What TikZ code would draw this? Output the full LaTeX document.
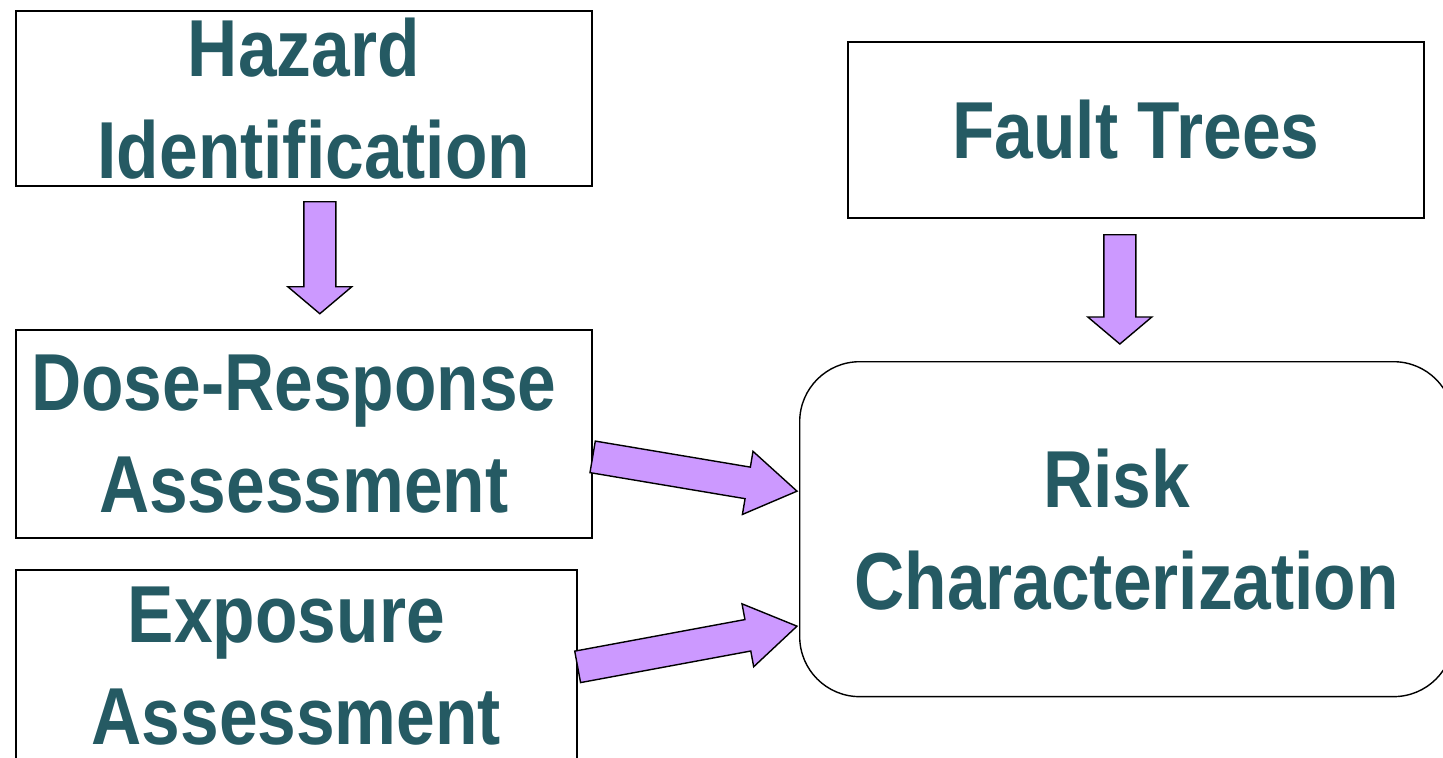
\documentclass[tikz,border=0pt]{standalone}
\usepackage{fontspec}
\newfontfamily\stagefont{Liberation Sans}[FakeStretch=0.86]
\usetikzlibrary{calc,positioning}
\definecolor{stagetext}{HTML}{255A63}
\definecolor{lavender}{HTML}{CC99FF}

% block arrow from coordinate #2 to coordinate #3, #1 = head length
\newcommand{\fatarrow}[3][0.54cm]{%
  \coordinate (fa-n) at ($(#3)!#1!(#2)$);
  \draw[fatarrow] ($(#2)!0.32cm!90:(#3)$) -- ($(fa-n)!0.32cm!-90:(#2)$)
    -- ($(fa-n)!0.64cm!-90:(#2)$) -- (#3) -- ($(fa-n)!0.64cm!90:(#2)$)
    -- ($(fa-n)!0.32cm!90:(#2)$) -- ($(#2)!0.32cm!-90:(#3)$) -- cycle;}
\newcommand{\trail}{\hspace*{0.4cm}}

\begin{document}
\begin{tikzpicture}[x=0.02cm, y=-0.02cm,
    stage/.style={draw=black, line width=1pt, inner sep=0pt, anchor=north west, align=center,
      text=stagetext, font=\stagefont\bfseries\fontsize{46}{58}\selectfont},
    fatarrow/.style={draw=black, line width=0.8pt, fill=lavender, line join=miter},
]
\useasboundingbox (0,0) rectangle (1443,757);

\node[stage, minimum width=11.52cm, minimum height=3.5cm] (haz) at (15,10) {Hazard\\\trail Identification};
\node[stage, minimum width=11.52cm, minimum height=4.16cm] (dose) at (15,329) {Dose-Response\trail\\Assessment};
\node[stage, minimum width=11.22cm, minimum height=3.84cm] (expo) at (15,569) {Exposure\trail\\Assessment};
\node[stage, minimum width=11.52cm, minimum height=3.52cm] (fault) at (847,41) {Fault Trees};
\node[stage, line width=0.8pt, rounded corners=1.2cm, minimum width=13.08cm, minimum height=6.7cm] (risk) at (799,361) {Risk\trail\\Characterization};

% arrow ends
\coordinate (h-s) at ($(haz.south)+(16,15)$);
\coordinate (h-e) at ($(haz.south)+(16,127)$);
\coordinate (f-s) at ($(fault.south)+(-16,16)$);
\coordinate (f-e) at ($(risk.north -| f-s)+(0,-17)$);
\coordinate (d-s) at ($(dose.east)+(0,23)$);
\coordinate (d-e) at ($(risk.west)+(-2,-38)$);
\coordinate (e-s) at ($(expo.east)+(0,1)$);
\coordinate (e-e) at ($(risk.west)+(-2,97)$);

\fatarrow{h-s}{h-e}
\fatarrow{f-s}{f-e}
\fatarrow[1cm]{d-s}{d-e}
\fatarrow[1cm]{e-s}{e-e}
\end{tikzpicture}
\end{document}
